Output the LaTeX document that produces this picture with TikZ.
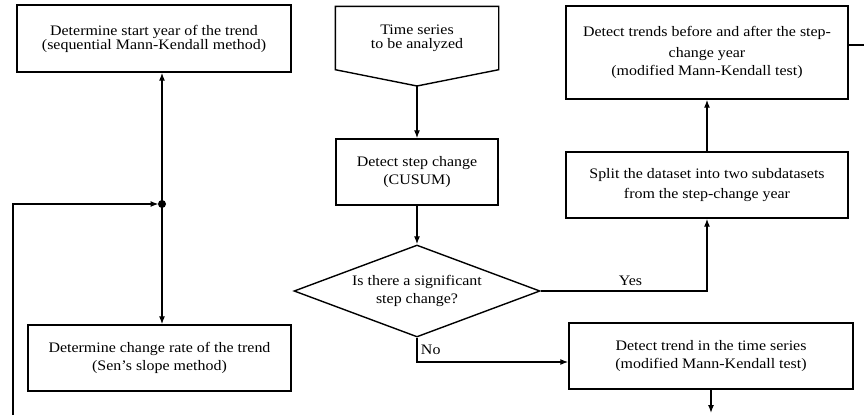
\documentclass[tikz,border=0pt]{standalone}
\usepackage{fontspec}
\setmainfont{Liberation Serif}[FakeStretch=1.1]
\usetikzlibrary{shapes.geometric,arrows.meta}
\tikzset{
  box/.style={draw, line width=1.4pt, align=center, inner sep=0pt},
  decision/.style={diamond, aspect=2.67, draw, line width=1.4pt, align=center, inner sep=0pt,
    minimum width=246, minimum height=92},
}
\begin{document}
\begin{tikzpicture}[x=1pt, y=-1pt, font=\fontsize{14.5}{18}\selectfont]
      \useasboundingbox (0,0) rectangle (864,415);
      \node[box, minimum width=274, minimum height=67] (start) at (154,38.5)
        {Determine start year of the trend\\[-4pt](sequential Mann-Kendall method)};
      \node[box, minimum width=263, minimum height=66] (rate) at (159.5,358)
        {Determine change rate of the trend\\(Sen’s slope method)};
      \node[box, draw=none, minimum width=162, minimum height=62] (ts) at (417,38)
        {Time series\\[-4pt]to be analyzed};
      \coordinate (tstip) at (417,86);
      \draw[line width=1.4pt] (ts.north west) -- (ts.north east) -- (ts.south east)
        -- (tstip) -- (ts.south west) -- cycle;
      \node[box, minimum width=162, minimum height=66] (step) at (417,172)
        {Detect step change\\(CUSUM)};
      \node[decision] (sig) at (417,291) {Is there a significant\\step change?};
      \node[box, minimum width=282, minimum height=93] (before) at (707,52.5)
        {Detect trends before and after the step-\\[3pt]change year\\(modified Mann-Kendall test)};
      \node[box, minimum width=282, minimum height=66] (split) at (707,185)
        {Split the dataset into two subdatasets\\[2pt]from the step-change year};
      \node[box, minimum width=284, minimum height=66] (trend) at (711,356)
        {Detect trend in the time series\\(modified Mann-Kendall test)};
      \coordinate (dot) at (162,204);
      \coordinate (lin) at (13,415);
      \coordinate (rout) at (864,45);
      \coordinate (bout) at (711,413);
      \fill (dot) circle (4);
      \begin{scope}[-{Latex[length=8pt,width=6pt]}, line width=1.3pt]
        \draw (tstip) to (step);
        \draw (step) to (sig);
        \draw (sig.east) -| node[above=1pt, pos=0.27] {Yes} (split);
        \draw (sig.south) |- node[right, pos=0.25] {No} ([yshift=-6pt]trend.west);
        \draw (split) to (before);
        \draw (dot) to (dot |- start.south);
        \draw (dot) to (dot |- rate.north);
        \draw[shorten >=3.5pt] (lin) |- (dot);
        \draw (trend) to (bout);
        \draw[-] (rout -| before.east) to (rout);
      \end{scope}
    \end{tikzpicture}
\end{document}
